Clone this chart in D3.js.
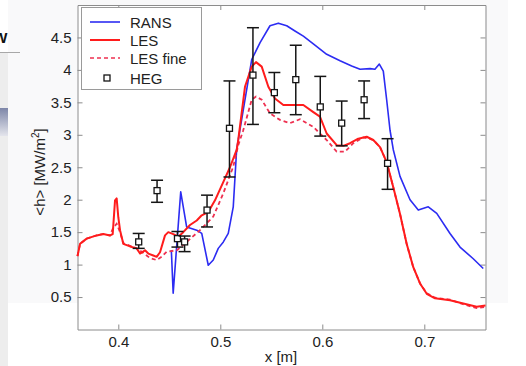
<!DOCTYPE html>
<html>
<head>
<meta charset="utf-8">
<script src="https://cdn.jsdelivr.net/npm/d3@7"></script>
<style>
  html, body { margin: 0; padding: 0; background: #fff; }
  svg { display: block; }
  text { font-family: "Liberation Sans", Arial, Helvetica, sans-serif; }
</style>
</head>
<body>
<svg id="chart" width="526" height="366"></svg>
<script>
// Wall heat flux along the chamber: RANS, LES, LES (fine mesh) and HEG measurements

const ransX = [0.452, 0.4538, 0.4612, 0.467, 0.4769, 0.4818, 0.4882, 0.4931, 0.498, 0.503, 0.5078, 0.5127, 0.516,
  0.5308, 0.539, 0.5487, 0.5569, 0.5651, 0.5732, 0.5814, 0.5912, 0.6043, 0.6174, 0.6288, 0.637, 0.6468, 0.6516,
  0.6559, 0.6598, 0.6631, 0.6664, 0.6696, 0.6762, 0.686, 0.6941, 0.7039, 0.7122, 0.7252, 0.735, 0.748, 0.7578];
const ransY = [1.22, 0.56, 2.12, 1.58, 1.53, 1.48, 0.99, 1.07, 1.25, 1.35, 1.48, 1.89, 2.77,
  4.16, 4.42, 4.68, 4.72, 4.68, 4.60, 4.52, 4.40, 4.24, 4.14, 4.06, 4.01, 4.02, 4.01,
  4.09, 3.98, 3.54, 3.07, 2.77, 2.36, 2.00, 1.84, 1.89, 1.79, 1.48, 1.27, 1.09, 0.94];

const lesX = [0.36, 0.3625, 0.369, 0.3788, 0.3853, 0.3919, 0.3945, 0.3968, 0.3984, 0.40, 0.4017, 0.4049, 0.4115,
  0.418, 0.4213, 0.4262, 0.4294, 0.4343, 0.4376, 0.4409, 0.4458, 0.449, 0.4539, 0.4588, 0.4637, 0.4703, 0.4769,
  0.4818, 0.4882, 0.4948, 0.5029, 0.5095, 0.5161, 0.5176, 0.5242, 0.5308, 0.535, 0.5406, 0.5471, 0.5536, 0.5618,
  0.5716, 0.5814, 0.5912, 0.5977, 0.6043, 0.6141, 0.6206, 0.6272, 0.6353, 0.6435, 0.65, 0.6566, 0.6631, 0.6696,
  0.6762, 0.6827, 0.6892, 0.6958, 0.7024, 0.7105, 0.7252, 0.7382, 0.7514, 0.76];
const lesY = [1.13, 1.32, 1.40, 1.45, 1.47, 1.45, 1.47, 1.99, 2.02, 1.73, 1.53, 1.32, 1.28,
  1.25, 1.17, 1.22, 1.17, 1.14, 1.12, 1.19, 1.45, 1.50, 1.47, 1.43, 1.50, 1.61, 1.68,
  1.76, 1.81, 1.99, 2.27, 2.50, 2.77, 2.92, 3.74, 4.05, 4.12, 4.05, 3.74, 3.56, 3.46,
  3.46, 3.46, 3.35, 3.28, 3.02, 2.84, 2.83, 2.87, 2.94, 2.97, 2.92, 2.81, 2.58, 2.19,
  1.78, 1.32, 0.96, 0.71, 0.55, 0.48, 0.45, 0.40, 0.35, 0.37];

const lesFineX = [0.36, 0.3625, 0.369, 0.3788, 0.3853, 0.3919, 0.3948, 0.3984, 0.4017, 0.4049, 0.4115, 0.418,
  0.4245, 0.4311, 0.4376, 0.4425, 0.4475, 0.4573, 0.4671, 0.4801, 0.4931, 0.503, 0.5127, 0.5176, 0.5225, 0.5308,
  0.535, 0.5406, 0.5487, 0.5585, 0.5683, 0.5781, 0.5912, 0.6043, 0.6141, 0.6222, 0.6304, 0.6402, 0.65, 0.6566,
  0.6631, 0.6696, 0.6762, 0.6827, 0.6892, 0.6958, 0.7024, 0.7105, 0.7252, 0.7382, 0.7514, 0.76];
const lesFineY = [1.13, 1.32, 1.40, 1.45, 1.47, 1.45, 1.56, 1.63, 1.50, 1.33, 1.29, 1.25,
  1.18, 1.10, 1.07, 1.12, 1.20, 1.22, 1.35, 1.53, 1.74, 2.10, 2.51, 2.84, 3.07, 3.54,
  3.59, 3.54, 3.33, 3.23, 3.18, 3.24, 3.12, 2.92, 2.74, 2.74, 2.87, 2.96, 2.92, 2.81,
  2.58, 2.19, 1.78, 1.32, 0.96, 0.71, 0.56, 0.49, 0.46, 0.39, 0.33, 0.35];

const hegX  = [0.42, 0.438, 0.458, 0.465, 0.487, 0.509, 0.532, 0.553, 0.574, 0.598, 0.619, 0.641, 0.664];
const hegY  = [1.35, 2.14, 1.40, 1.35, 1.84, 3.10, 3.92, 3.65, 3.85, 3.43, 3.18, 3.54, 2.56];
const hegLo = [1.25, 1.96, 1.27, 1.20, 1.58, 2.35, 3.16, 3.34, 3.31, 2.98, 2.83, 3.25, 2.16];
const hegHi = [1.48, 2.30, 1.51, 1.44, 2.07, 3.83, 4.65, 3.96, 4.38, 3.90, 3.52, 3.83, 2.94];

const xTicks = [0.4, 0.5, 0.6, 0.7];
const yTicks = [0.5, 1, 1.5, 2, 2.5, 3, 3.5, 4, 4.5];
const legendLabels = ["RANS", "LES", "LES fine", "HEG"];

const svg = d3.select("#chart");
const x = d3.scaleLinear().domain([0.36, 0.76]).range([77.5, 485.5]);
const y = d3.scaleLinear().domain([0, 5]).range([329.5, 5]);

// page surroundings: side strip, rule, heading fragment
svg.append("rect").attr("x", 8).attr("y", 0).attr("width", 500).attr("height", 303).attr("fill", "#f9f9fa");
svg.append("rect").attr("x", 0).attr("y", 52).attr("width", 8).attr("height", 314).attr("fill", "#ededed");
const grad = svg.append("defs").append("linearGradient").attr("id", "tab").attr("x1", 0).attr("y1", 0).attr("x2", 0).attr("y2", 1);
grad.append("stop").attr("offset", 0).attr("stop-color", "#7d86a8");
grad.append("stop").attr("offset", 1).attr("stop-color", "#e4e5ec");
svg.append("rect").attr("x", 0).attr("y", 108).attr("width", 8).attr("height", 28).attr("fill", "url(#tab)");
svg.append("line").attr("x1", 0).attr("x2", 20).attr("y1", 52.5).attr("y2", 52.5).attr("stroke", "#a8a8a8");
svg.append("text").attr("x", 7.5).attr("y", 43).attr("text-anchor", "end")
  .attr("font-size", 15).attr("font-weight", "bold").attr("fill", "#111").text("W");

// plot background
svg.append("rect").attr("x", x.range()[0]).attr("y", y.range()[1])
  .attr("width", x.range()[1] - x.range()[0]).attr("height", y.range()[0] - y.range()[1]).attr("fill", "#fff");

// axes (ticks pointing inward on all four sides)
const axisColor = "#8c8c8c";
function styleAxis(g) {
  g.select(".domain").attr("stroke", axisColor);
  g.selectAll(".tick line").attr("stroke", axisColor);
  g.selectAll(".tick text").attr("fill", "#222").attr("font-size", 15)
    .attr("font-family", "'Liberation Sans', Arial, sans-serif");
}
const fmt = d => String(d);
svg.append("g").attr("transform", `translate(0,${y.range()[0]})`)
  .call(d3.axisBottom(x).tickValues(xTicks).tickFormat(fmt).tickSizeInner(-5).tickSizeOuter(0).tickPadding(7))
  .call(styleAxis);
svg.append("g").attr("transform", `translate(0,${y.range()[1]})`)
  .call(d3.axisTop(x).tickValues(xTicks).tickFormat("").tickSizeInner(-5).tickSizeOuter(0))
  .call(styleAxis);
svg.append("g").attr("transform", `translate(${x.range()[0]},0)`)
  .call(d3.axisLeft(y).tickValues(yTicks).tickFormat(fmt).tickSizeInner(-5).tickSizeOuter(0).tickPadding(6))
  .call(styleAxis);
svg.append("g").attr("transform", `translate(${x.range()[1]},0)`)
  .call(d3.axisRight(y).tickValues(yTicks).tickFormat("").tickSizeInner(-5).tickSizeOuter(0))
  .call(styleAxis);

// axis titles
svg.append("text").attr("x", 281).attr("y", 362).attr("text-anchor", "middle")
  .attr("font-size", 15).attr("fill", "#222").text("x [m]");
const yl = svg.append("text").attr("transform", "translate(45,172) rotate(-90)")
  .attr("text-anchor", "middle").attr("font-size", 15).attr("fill", "#222");
yl.append("tspan").text("<h> [MW/m");
yl.append("tspan").attr("font-size", 10).attr("dy", -6).text("2");
yl.append("tspan").attr("dy", 6).text("]");

// curves
const line = (xs, ys) => d3.line().x((d, i) => x(xs[i])).y((d, i) => y(ys[i]))(xs);
const plot = svg.append("g");
plot.append("path").attr("d", line(ransX, ransY)).attr("fill", "none")
  .attr("stroke", "#2c2cf2").attr("stroke-width", 1.6).attr("stroke-linejoin", "round");
plot.append("path").attr("d", line(lesFineX, lesFineY)).attr("fill", "none")
  .attr("stroke", "#ee3050").attr("stroke-width", 1.8).attr("stroke-dasharray", "4,3");
plot.append("path").attr("d", line(lesX, lesY)).attr("fill", "none")
  .attr("stroke", "#ff1c1c").attr("stroke-width", 2).attr("stroke-linejoin", "round");

// HEG measurements with error bars
const heg = plot.selectAll("g.heg").data(hegX).join("g").attr("class", "heg");
heg.append("line").attr("x1", d => x(d)).attr("x2", d => x(d))
  .attr("y1", (d, i) => y(hegLo[i])).attr("y2", (d, i) => y(hegHi[i]))
  .attr("stroke", "#151515").attr("stroke-width", 1.5);
heg.append("line").attr("x1", d => x(d) - 6).attr("x2", d => x(d) + 6)
  .attr("y1", (d, i) => y(hegLo[i])).attr("y2", (d, i) => y(hegLo[i]))
  .attr("stroke", "#151515").attr("stroke-width", 1.5);
heg.append("line").attr("x1", d => x(d) - 6).attr("x2", d => x(d) + 6)
  .attr("y1", (d, i) => y(hegHi[i])).attr("y2", (d, i) => y(hegHi[i]))
  .attr("stroke", "#151515").attr("stroke-width", 1.5);
heg.append("rect").attr("x", d => x(d) - 3).attr("y", (d, i) => y(hegY[i]) - 3)
  .attr("width", 6).attr("height", 6).attr("fill", "#fff")
  .attr("stroke", "#151515").attr("stroke-width", 1.3);

// legend
const lg = svg.append("g");
lg.append("rect").attr("x", 81.5).attr("y", 7.5).attr("width", 120).attr("height", 82)
  .attr("fill", "#fff").attr("stroke", "#9a9a9a");
const rowY = [22, 40, 58, 78];
const sw = [
  { stroke: "#2c2cf2", w: 1.6, dash: null },
  { stroke: "#ff1c1c", w: 2, dash: null },
  { stroke: "#ee3050", w: 1.6, dash: "4,3" }
];
sw.forEach((s, i) => {
  lg.append("line").attr("x1", 90).attr("x2", 120).attr("y1", rowY[i]).attr("y2", rowY[i])
    .attr("stroke", s.stroke).attr("stroke-width", s.w).attr("stroke-dasharray", s.dash);
});
lg.append("rect").attr("x", 104).attr("y", rowY[3] - 3).attr("width", 6).attr("height", 6)
  .attr("fill", "#fff").attr("stroke", "#151515").attr("stroke-width", 1.3);
legendLabels.forEach((t, i) => {
  lg.append("text").attr("x", 130).attr("y", rowY[i] + 5.5).attr("font-size", 15)
    .attr("fill", "#222").text(t);
});
</script>
</body>
</html>
